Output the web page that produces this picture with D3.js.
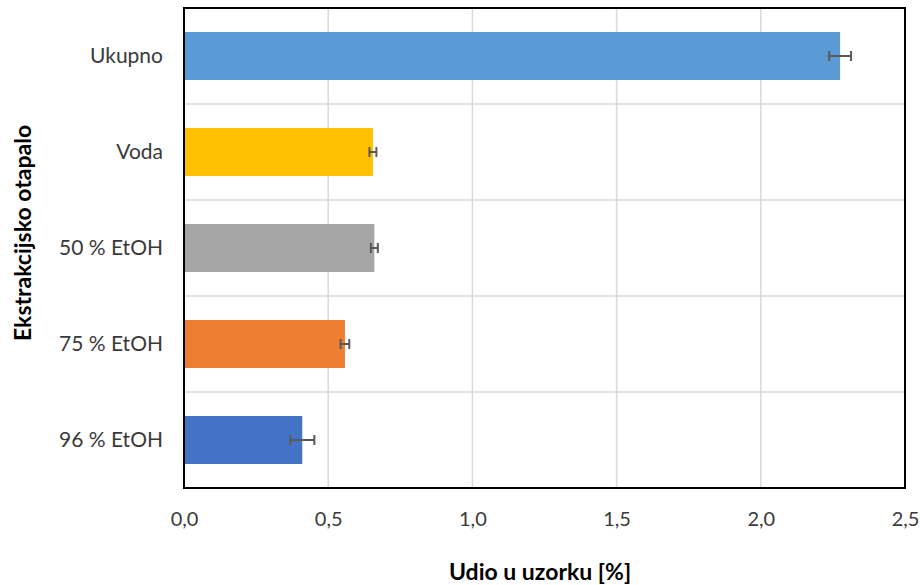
<!DOCTYPE html>
<html><head><meta charset="utf-8">
<script src="https://cdn.jsdelivr.net/npm/d3@7"></script>
<style>body{margin:0;background:#fff}</style>
</head><body>
<svg id="c" width="920" height="585"></svg>
<script>
const categories = ["Ukupno", "Voda", "50 % EtOH", "75 % EtOH", "96 % EtOH"];
const values = [2.275, 0.655, 0.66, 0.558, 0.41];
const errors = [0.038, 0.012, 0.012, 0.015, 0.042];
const colors = ["#5B9BD5", "#FFC000", "#A5A5A5", "#ED7D31", "#4472C4"];
const xTicks = [0, 0.5, 1.0, 1.5, 2.0, 2.5];
const xTitle = "Udio u uzorku [%]";
const yTitle = "Ekstrakcijsko otapalo";

const m = {l:184, t:8, r:905, b:488};
const svg = d3.select("#c");
const font = "Lato, 'Open Sans', sans-serif";
const x = d3.scaleLinear().domain([0, 2.5]).range([m.l, m.r]);
const y = d3.scaleBand().domain(categories).range([m.t, m.b]).paddingInner(0.5).paddingOuter(0.25);
const band = d3.scaleBand().domain(categories).range([m.t, m.b]);

// gridlines
svg.append("g").selectAll("line").data(xTicks.slice(1, -1)).join("line")
  .attr("x1", d => x(d)).attr("x2", d => x(d)).attr("y1", m.t).attr("y2", m.b)
  .attr("stroke", "#D9D9D9").attr("stroke-width", 1.5);
svg.append("g").selectAll("line").data(categories.slice(1)).join("line")
  .attr("x1", m.l).attr("x2", m.r).attr("y1", d => band(d)).attr("y2", d => band(d))
  .attr("stroke", "#D9D9D9").attr("stroke-width", 1.5);

// bars
svg.append("g").selectAll("rect").data(categories).join("rect")
  .attr("x", x(0)).attr("y", d => y(d))
  .attr("width", (d, i) => x(values[i]) - x(0)).attr("height", y.bandwidth())
  .attr("fill", (d, i) => colors[i]);

// error bars
const eg = svg.append("g").attr("stroke", "#595959").attr("stroke-width", 2);
categories.forEach((c, i) => {
  const cy = y(c) + y.bandwidth() / 2;
  const x1 = x(values[i] - errors[i]), x2 = x(values[i] + errors[i]);
  eg.append("line").attr("x1", x1).attr("x2", x2).attr("y1", cy).attr("y2", cy);
  eg.append("line").attr("x1", x1).attr("x2", x1).attr("y1", cy - 5).attr("y2", cy + 5);
  eg.append("line").attr("x1", x2).attr("x2", x2).attr("y1", cy - 5).attr("y2", cy + 5);
});

// frame
svg.append("rect").attr("x", m.l).attr("y", m.t).attr("width", m.r - m.l).attr("height", m.b - m.t)
  .attr("fill", "none").attr("stroke", "#000").attr("stroke-width", 2);

// x axis
const fmt = d => d3.format(".1f")(d).replace(".", ",");
const xa = svg.append("g").attr("transform", `translate(0,${m.b})`)
  .call(d3.axisBottom(x).tickValues(xTicks).tickFormat(fmt).tickSize(0).tickPadding(24));
xa.select(".domain").remove();
xa.selectAll("text").attr("font-family", font).attr("font-size", 20).attr("fill", "#3a3a3a");

// y axis
const ya = svg.append("g").attr("transform", `translate(${m.l},0)`)
  .call(d3.axisLeft(band).tickSize(0).tickPadding(21));
ya.select(".domain").remove();
ya.selectAll("text").attr("font-family", font).attr("font-size", 21).attr("fill", "#3a3a3a");

// titles
svg.append("text").attr("x", 540).attr("y", 580).attr("text-anchor", "middle")
  .attr("font-family", font).attr("font-size", 23).attr("font-weight", "bold").attr("fill", "#000")
  .text(xTitle);
svg.append("text").attr("transform", "translate(31,233) rotate(-90)").attr("text-anchor", "middle")
  .attr("font-family", font).attr("font-size", 23).attr("font-weight", "bold").attr("fill", "#000")
  .text(yTitle);
</script>
</body></html>
